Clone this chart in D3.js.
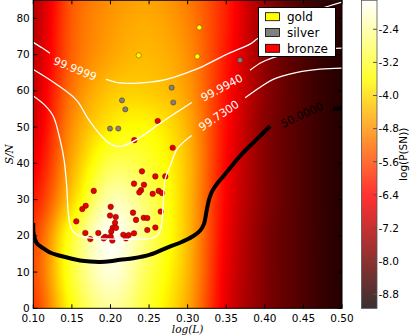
<!DOCTYPE html>
<html><head><meta charset="utf-8">
<script src="https://cdn.jsdelivr.net/npm/d3@7"></script>
<style>html,body{margin:0;padding:0;background:#fff;}svg{display:block;}</style>
</head><body>
<script>
// ---------- data ----------
const gridLogL = [0.10,0.15,0.20,0.25,0.30,0.35,0.40,0.45,0.50];
const gridSN   = [0,10,20,30,40,50,60,70,80,90];
const logPSN = [
 [-5.79,-3.49,-2.44,-3.26,-4.53,-6.68,-7.80,-8.40,-8.84],
 [-5.57,-3.19,-2.00,-3.04,-4.38,-6.61,-7.80,-8.40,-8.84],
 [-5.72,-3.26,-1.77,-2.82,-4.30,-6.54,-7.80,-8.40,-8.84],
 [-6.16,-4.08,-2.30,-2.89,-4.30,-6.46,-7.73,-8.40,-8.84],
 [-6.54,-4.53,-3.04,-3.26,-4.30,-6.39,-7.73,-8.40,-8.84],
 [-6.83,-4.82,-3.78,-3.63,-4.45,-6.31,-7.73,-8.40,-8.84],
 [-6.98,-5.12,-4.23,-4.16,-4.68,-6.24,-7.65,-8.40,-8.84],
 [-7.13,-5.35,-4.60,-4.38,-4.82,-6.16,-7.65,-8.40,-8.84],
 [-7.21,-5.42,-4.75,-4.53,-4.97,-6.09,-7.58,-8.40,-8.84],
 [-7.28,-5.49,-4.90,-4.68,-5.12,-6.09,-7.58,-8.40,-8.84]
];
const colorDomain = [-9.14,-1.70];

const gold = [[0.3151,77.5],[0.2366,69.8],[0.3125,69.5]];
const silver = [[0.3678,68.5],[0.2793,60.9],[0.2149,57.4],[0.2814,56.8],[0.2192,54.9],[0.1994,49.6],[0.2101,49.6]];
const bronze = [[0.2612,51.7],[0.2309,46.4],[0.2806,44.3],[0.2408,37.8],[0.2581,36.4],[0.2710,36.4],[0.2305,34.4],
 [0.2434,34.1],[0.2396,32.6],[0.2374,32.0],[0.1783,32.4],[0.2547,31.6],[0.2625,32.4],[0.2668,31.8],[0.2003,28.0],
 [0.1679,28.3],[0.1635,27.4],[0.1557,24.0],[0.1994,25.6],[0.2068,25.2],[0.2059,23.6],[0.2292,26.4],[0.2331,24.4],
 [0.2431,25.0],[0.2477,24.9],[0.2651,26.7],[0.2029,22.2],[0.2072,22.2],[0.2010,21.2],[0.1674,20.8],[0.1842,20.8],
 [0.2003,19.8],[0.1933,19.7],[0.1912,19.3],[0.2166,20.3],[0.2236,20.2],[0.2305,20.7],[0.2201,19.3],[0.2477,21.6],
 [0.2581,22.3],[0.1739,19.1],[0.2024,18.7]];

// contour lines (each level as list of segments broken by labels)
const c999999 = [
 [[0.100,73.4],[0.1113,71.9],[0.1216,70.4]],
 [[0.1942,63.2],[0.2123,62.2],[0.2292,62.1],[0.2512,62.4],[0.2729,63.2],[0.2940,64.6],[0.3160,66.4],[0.3506,70.1],[0.3808,72.9],[0.3899,74.3],[0.4132,77.0],[0.4456,80.4],[0.4715,82.6],[0.5,84.5]]
];
const c999940 = [
 [[0.100,65.9],[0.1281,62.1],[0.1562,57.4],[0.1713,52.2],[0.1864,48.0],[0.1968,45.8],[0.2080,44.7],[0.2210,45.2],[0.2382,47.1],[0.2619,50.7],[0.2836,53.8],[0.3052,56.8]],
 [[0.3808,65.7],[0.3963,67.9],[0.4197,69.7],[0.4456,70.8],[0.4715,71.5],[0.5,71.8]]
];
const c997300 = [
 [[0.100,58.6],[0.1152,56.0],[0.1259,53.0],[0.1346,46.6],[0.1398,41.1],[0.1433,33.7],[0.1450,27.2],[0.1476,23.1],[0.1518,21.1],[0.1605,19.9],[0.1777,19.3],[0.2123,19.1],[0.2512,19.2],[0.2603,20.0],[0.2648,21.7],[0.2668,24.4],[0.2687,30.0],[0.2706,35.5],[0.2771,39.2],[0.2858,43.8],[0.2953,46.0],[0.3052,47.7]],
 [[0.3745,58.1],[0.3940,61.0],[0.4108,63.2],[0.4419,65.1],[0.4715,66.0],[0.5,66.3]]
];
const c500000 = [
 [[0.100,23.6],[0.1003,20.8],[0.1044,18.0],[0.1126,16.6],[0.1216,15.4],[0.1346,14.5],[0.1476,13.8],[0.1605,13.2],[0.1735,12.9],[0.1864,12.8],[0.1994,12.96],[0.2123,13.4],[0.2296,13.8],[0.2512,14.8],[0.2729,16.7],[0.2901,18.1],[0.3069,19.9],[0.3160,21.4],[0.3212,23.3],[0.3244,26.7],[0.3277,30.0],[0.3315,32.2],[0.3393,34.7],[0.3462,36.4],[0.3678,42.0],[0.3894,46.6],[0.4067,50.3]],
 [[0.4883,55.1],[0.5,55.2]]
];
const contourLabels = [
 {text:"99.9999", at:[0.154,66.0], angle:22, color:"#fff"},
 {text:"99.9940", at:[0.3445,60.8], angle:-28, color:"#fff"},
 {text:"99.7300", at:[0.3406,53.1], angle:-34, color:"#fff"},
 {text:"50.0000", at:[0.4482,53.3], angle:-25, color:"#000"}
];

const xTicks = [0.10,0.15,0.20,0.25,0.30,0.35,0.40,0.45,0.50];
const xTickLabels = ["0.10","0.15","0.20","0.25","0.30","0.35","0.40","0.45","0.50"];
const yTicks = [0,10,20,30,40,50,60,70,80];
const yTickLabels = ["0","10","20","30","40","50","60","70","80"];
const cbTicks = [-2.4,-3.2,-4.0,-4.8,-5.6,-6.4,-7.2,-8.0,-8.8];
const cbTickLabels = ["-2.4","-3.2","-4.0","-4.8","-5.6","-6.4","-7.2","-8.0","-8.8"];
const legendItems = ["gold","silver","bronze"];
const legendColors = ["#ffff00","#808080","#ff0000"];

// ---------- setup ----------
const W=415,H=335;
const L=33.3,R=342,T=0.3,B=308.3;
const x = d3.scaleLinear().domain([0.1,0.5]).range([L,R]);
const y = d3.scaleLinear().domain([0,85]).range([B,T]);

function hot(t){
  t=Math.max(0,Math.min(1,t));
  const r = t<0.365079 ? 0.0416+(1-0.0416)*t/0.365079 : 1;
  const g = t<0.365079 ? 0 : (t<0.746032 ? (t-0.365079)/(0.746032-0.365079) : 1);
  const b = t<0.746032 ? 0 : (t-0.746032)/(1-0.746032);
  return d3.rgb(r*255,g*255,b*255);
}
const color = d3.scaleSequential(hot).domain(colorDomain).clamp(true);

const svg = d3.select("body").append("svg").attr("width",W).attr("height",H)
  .style("font-family","'DejaVu Sans', sans-serif");

// heat map via bicubic interpolation of the grid
function cr(p0,p1,p2,p3,t){return 0.5*((2*p1)+(-p0+p2)*t+(2*p0-5*p1+4*p2-p3)*t*t+(-p0+3*p1-3*p2+p3)*t*t*t);}
const nR=gridSN.length,nC=gridLogL.length;
function g(r,c){r=Math.max(0,Math.min(nR-1,r));c=Math.max(0,Math.min(nC-1,c));return logPSN[r][c];}
const gx = d3.scaleLinear().domain([gridLogL[0],gridLogL[nC-1]]).range([0,nC-1]);
const gy = d3.scaleLinear().domain([gridSN[0],gridSN[nR-1]]).range([0,nR-1]);
function sample(lx,sn){
  const fx=gx(lx),fy=gy(sn);
  const ix=Math.floor(fx),iy=Math.floor(fy),tx=fx-ix,ty=fy-iy;
  const rows=[];
  for(let k=-1;k<=2;k++){rows.push(cr(g(iy+k,ix-1),g(iy+k,ix),g(iy+k,ix+1),g(iy+k,ix+2),tx));}
  return cr(rows[0],rows[1],rows[2],rows[3],ty);
}
const cw=Math.round(R-L), ch=Math.round(B-T);
const canvas=document.createElement("canvas");canvas.width=cw;canvas.height=ch;
const ctx=canvas.getContext("2d");const img=ctx.createImageData(cw,ch);
for(let py=0;py<ch;py++){
  const sn=y.invert(T+py+0.5);
  for(let px=0;px<cw;px++){
    const lx=x.invert(L+px+0.5);
    const c=d3.rgb(color(sample(lx,sn)));
    const i=(py*cw+px)*4;img.data[i]=c.r;img.data[i+1]=c.g;img.data[i+2]=c.b;img.data[i+3]=255;
  }
}
ctx.putImageData(img,0,0);
svg.append("image").attr("x",L).attr("y",T).attr("width",R-L).attr("height",B-T)
  .attr("preserveAspectRatio","none").attr("href",canvas.toDataURL());

svg.append("clipPath").attr("id","pc").append("rect").attr("x",L).attr("y",T).attr("width",R-L).attr("height",B-T);
const plot = svg.append("g").attr("clip-path","url(#pc)");

// points
function drawPts(data,fill,r){
  plot.append("g").selectAll("circle").data(data).join("circle")
   .attr("cx",d=>x(d[0])).attr("cy",d=>y(d[1])).attr("r",r)
   .attr("fill",fill).attr("stroke","#3a0000").attr("stroke-opacity",0.6).attr("stroke-width",0.6);
}
drawPts(bronze,"#e60000",2.8);
drawPts(silver,"#808080",2.6);
drawPts(gold,"#ffff00",2.6);

// contours
const line = d3.line().x(d=>x(d[0])).y(d=>y(d[1])).curve(d3.curveCatmullRom.alpha(0.5));
function drawC(segs,stroke,w){
  segs.forEach(s=>plot.append("path").attr("d",line(s)).attr("fill","none").attr("stroke",stroke).attr("stroke-width",w).attr("stroke-linecap","butt"));
}
drawC(c999999,"#fff",1.3);
drawC(c999940,"#fff",1.3);
drawC(c997300,"#fff",1.3);
drawC(c500000,"#000",4);

contourLabels.forEach(l=>{
  plot.append("text").attr("transform",`translate(${x(l.at[0])},${y(l.at[1])}) rotate(${l.angle})`)
   .attr("text-anchor","middle").attr("dominant-baseline","central")
   .attr("fill",l.color).attr("font-size",11).text(l.text);
});

// axes frame & ticks (inside)
svg.append("rect").attr("x",L).attr("y",T).attr("width",R-L).attr("height",B-T).attr("fill","none").attr("stroke","#000").attr("stroke-width",1);
const tk=4;
xTicks.forEach((v,i)=>{
  const px=x(v);
  svg.append("line").attr("x1",px).attr("x2",px).attr("y1",B).attr("y2",B-tk).attr("stroke","#000");
  svg.append("line").attr("x1",px).attr("x2",px).attr("y1",T).attr("y2",T+tk).attr("stroke","#000");
  svg.append("text").attr("x",px).attr("y",B+13.6).attr("text-anchor","middle").attr("font-size",10.5).attr("fill","#000").text(xTickLabels[i]);
});
yTicks.forEach((v,i)=>{
  const py=y(v);
  svg.append("line").attr("x1",L).attr("x2",L+tk).attr("y1",py).attr("y2",py).attr("stroke","#000");
  svg.append("line").attr("x1",R).attr("x2",R-tk).attr("y1",py).attr("y2",py).attr("stroke","#000");
  svg.append("text").attr("x",L-3.5).attr("y",py+3.6).attr("text-anchor","end").attr("font-size",10.5).attr("fill","#000").text(yTickLabels[i]);
});
svg.append("text").attr("x",(L+R)/2).attr("y",332.5).attr("text-anchor","middle")
  .attr("font-family","'DejaVu Serif', serif").attr("font-style","italic").attr("font-size",10.5).text("log(L)");
svg.append("text").attr("transform",`translate(13,${(T+B)/2}) rotate(-90)`).attr("text-anchor","middle")
  .attr("font-family","'DejaVu Serif', serif").attr("font-style","italic").attr("font-size",10.5).text("S/N");

// legend
const lg = svg.append("g");
lg.append("rect").attr("x",258.5).attr("y",7.5).attr("width",77).attr("height",49).attr("fill","#fff").attr("stroke","#000").attr("stroke-width",1);
legendItems.forEach((n,i)=>{
  const cyy=16.7+i*15.8;
  lg.append("rect").attr("x",265.5).attr("y",cyy-4).attr("width",14).attr("height",8).attr("fill",legendColors[i]).attr("stroke","#000").attr("stroke-width",0.8);
  lg.append("text").attr("x",287).attr("y",cyy+4.3).attr("font-size",12).attr("fill","#000").text(n);
});

// colorbar
const cbx=361.5,cbw=15.5;
const cy = d3.scaleLinear().domain(colorDomain).range([B,T]);
const cb = svg.append("g");
const nSteps=Math.round(B-T);
cb.selectAll("rect.s").data(d3.range(nSteps)).join("rect").attr("class","s")
  .attr("x",cbx).attr("width",cbw).attr("y",d=>T+d).attr("height",1.05)
  .attr("fill",d=>color(cy.invert(T+d+0.5)));
cb.append("rect").attr("x",cbx).attr("y",T).attr("width",cbw).attr("height",B-T).attr("fill","none").attr("stroke","#555").attr("stroke-width",0.8);
cbTicks.forEach((v,i)=>{
  const py=cy(v);
  cb.append("line").attr("x1",cbx+cbw).attr("x2",cbx+cbw-4).attr("y1",py).attr("y2",py).attr("stroke","#555");
  cb.append("text").attr("x",cbx+cbw+1.5).attr("y",py+3.8).attr("font-size",10.5).attr("fill","#000").text(cbTickLabels[i]);
});
svg.append("text").attr("transform",`translate(407,${(T+B)/2}) rotate(-90)`).attr("text-anchor","middle")
  .attr("font-size",10.5).attr("fill","#000").text("log(P(SN))");
</script>
</body></html>
